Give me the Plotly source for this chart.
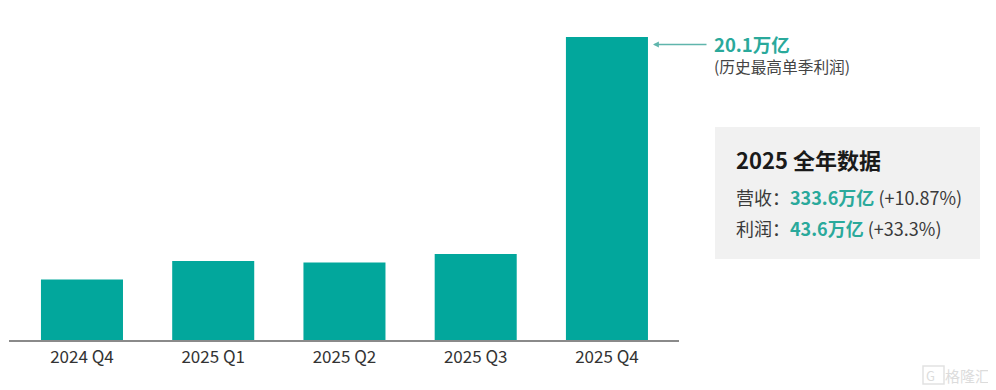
import plotly.graph_objects as go

categories = ["2024 Q4", "2025 Q1", "2025 Q2", "2025 Q3", "2025 Q4"]
profit = [4.01, 5.24, 5.14, 5.71, 20.1]

OFFSET = 8  # the page's own margin around the figure
W, H = 996 - OFFSET, 390 - OFFSET
L, R, T, B = 9 - OFFSET, 679 - OFFSET, 20 - OFFSET, 340 - OFFSET
FONT = "Noto Sans CJK SC"
TEAL = "#02a79c"
TEXT_TEAL = "#2aa99b"
DARK = "#333333"


def px(x):
    return (x - OFFSET - L) / (R - L)


def py(y):
    return (B - (y - OFFSET)) / (B - T)


fig = go.Figure(
    go.Bar(x=categories, y=profit, width=0.625, marker=dict(color=TEAL, line=dict(width=0)))
)

fig.add_shape(type="rect", xref="paper", yref="paper", x0=px(715), x1=px(980), y0=py(259), y1=py(127),
              fillcolor="#f1f1f1", line=dict(width=0), layer="below")
fig.add_shape(type="rect", xref="paper", yref="paper", x0=px(923), x1=px(944), y0=py(384), y1=py(366),
              fillcolor="rgba(0,0,0,0)", line=dict(width=1.5, color="#e2e2e2"), layer="below")


def label(x, y, text, size, color=DARK):
    fig.add_annotation(xref="paper", yref="paper", x=px(x), y=py(y), text=text, showarrow=False,
                       xanchor="left", yanchor="middle", align="left", borderpad=0, borderwidth=0,
                       font=dict(family=FONT, size=size, color=color))


label(714, 43.5, "<b>20.1万亿</b>", 18.5, TEXT_TEAL)
label(714, 67, "(历史最高单季利润)", 15.7, "#444444")
label(736, 158.5, "<b>2025 全年数据</b>", 22, "#1a1a1a")
label(736, 196.5, f'营收：<span style="color:{TEXT_TEAL}"><b>333.6万亿</b></span> (+10.87%)', 18, "#3a3a3a")
label(736, 227.5, f'利润：<span style="color:{TEXT_TEAL}"><b>43.6万亿</b></span> (+33.3%)', 18, "#3a3a3a")
label(926, 375, "G", 13, "#dcdcdc")
label(945, 375, "格隆汇", 15, "#dcdcdc")

fig.add_annotation(xref="paper", yref="paper", x=px(653), y=py(44.5), ax=55, ay=0, text="",
                   showarrow=True, arrowhead=2, arrowsize=0.9, arrowwidth=1.3, arrowcolor="#5fb5ac")

fig.update_layout(
    width=W, height=H, autosize=False,
    margin=dict(l=L, r=W - R, t=T, b=H - B, pad=0),
    paper_bgcolor="white", plot_bgcolor="white", showlegend=False,
    font=dict(family=FONT, color=DARK),
    xaxis=dict(type="category", range=[-0.556, 4.549], showline=True, linecolor="#8a8a8a", linewidth=2,
               ticks="", showgrid=False, tickfont=dict(family=FONT, size=17, color=DARK), ticklabelstandoff=1),
    yaxis=dict(range=[0, 21.23], visible=False, showgrid=False, zeroline=False),
)

fig.write_html("out.html")
